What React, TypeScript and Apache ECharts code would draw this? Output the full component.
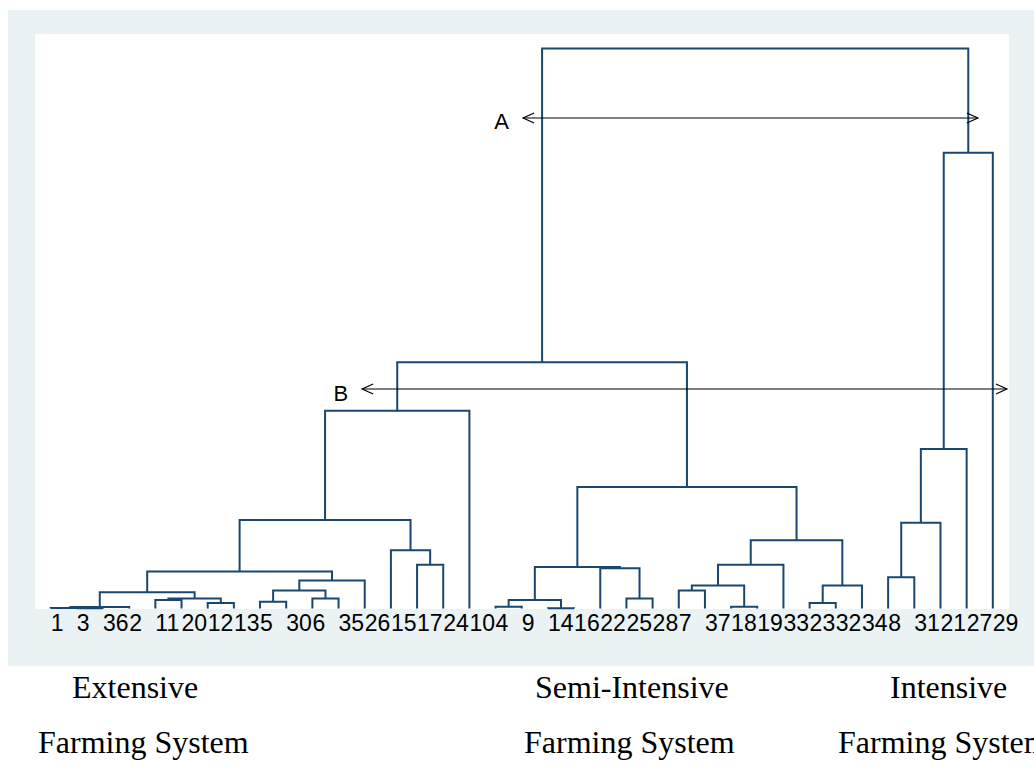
import React, { useEffect, useRef } from "react";
import * as echarts from "echarts";

// Leaf labels in dendrogram order (left to right)
const leafLabels = [
  "1", "3", "36", "2", "11", "20", "12", "13", "5", "30", "6", "35", "26",
  "15", "17", "24", "10", "4", "9", "14", "16", "22", "25", "28", "7", "37",
  "18", "19", "33", "23", "32", "34", "8", "31", "21", "27", "29",
];

// Linkage: node ids 0..36 are leaves (by position); merge k gets id 37 + k
const mergeLeft = [
  1, 0, 38, 4, 6, 40, 39, 8, 10, 44, 46, 43, 14, 13, 48, 51,
  17, 19, 53, 22, 21, 55, 24, 26, 59, 61, 29, 63, 62, 58, 52,
  32, 68, 69, 70, 67,
];
const mergeRight = [
  2, 37, 3, 5, 7, 41, 42, 9, 11, 45, 12, 47, 15, 49, 50, 16,
  18, 20, 54, 23, 56, 57, 25, 27, 60, 28, 30, 31, 64, 65, 66,
  33, 34, 35, 36, 71,
];
const mergeHeight = [
  0.04, 0.09, 0.27, 1.5, 1.0, 1.8, 2.9, 1.2, 1.8, 3.2, 5.0, 6.6, 7.8, 10.4, 15.8, 35.3,
  0.3, 0.05, 1.5, 1.8, 7.2, 7.4, 3.2, 0.3, 4.1, 7.8, 1.0, 4.1, 12.2, 21.7, 44.0,
  5.6, 15.3, 28.5, 81.4, 100,
];

// Cut-level annotations
const cutNames = ["A", "B"];
const cutHeights = [87.6, 39.2];
const cutFrom = [18.05, 11.9];
const cutTo = [35.43, 36.54];

const groupNames = ["Extensive", "Semi-Intensive", "Intensive"];
const groupSubtitle = "Farming System";

export default function App() {
  const ref = useRef<HTMLDivElement>(null);
  useEffect(() => {
    const el = ref.current;
    if (!el) return;
    const chart = echarts.init(el, null, { renderer: "svg" });
    const sans = '"Liberation Sans", Arial, sans-serif';
    const serif = '"Liberation Serif", "Times New Roman", serif';

    const nodeX: number[] = leafLabels.map((_, i) => i);
    const nodeH: number[] = leafLabels.map(() => 0);
    const segs: number[][] = [];
    mergeHeight.forEach((h, k) => {
      const a = mergeLeft[k];
      const b = mergeRight[k];
      segs.push([nodeX[a], nodeH[a], nodeX[b], nodeH[b], h]);
      nodeX.push((nodeX[a] + nodeX[b]) / 2);
      nodeH.push(h);
    });

    const cuts = cutNames.map((_, i) => [cutFrom[i], cutTo[i], cutHeights[i]]);

    const bottomText = (text: string, x: number, y: number) => ({
      type: "text",
      x,
      y,
      style: { text, font: `32px ${serif}`, fill: "#000", verticalAlign: "middle" },
    });

    const option: any = {
      animation: false,
      textStyle: { fontFamily: sans },
      grid: { left: 37.6, width: 968.3, top: 34, height: 574.5 },
      xAxis: [
        {
          type: "category",
          data: leafLabels,
          position: "bottom",
          boundaryGap: true,
          axisLine: { show: false },
          axisTick: { show: false },
          splitLine: { show: false },
          axisLabel: {
            interval: 0,
            align: "left",
            margin: 3,
            fontSize: 23,
            color: "#000",
            fontFamily: sans,
          },
          z: 10,
        },
        { type: "value", min: -0.5, max: 36.5, show: false },
      ],
      yAxis: { type: "value", min: 0, max: 102.6, show: false },
      graphic: [
        {
          type: "rect",
          z: -2,
          shape: { x: 8, y: 10, width: 1026, height: 656 },
          style: { fill: "#EAF2F3" },
        },
        {
          type: "rect",
          z: -1,
          shape: { x: 35, y: 34, width: 974, height: 575 },
          style: { fill: "#FFFFFF" },
        },
        bottomText(groupNames[0], 72, 687),
        bottomText(groupSubtitle, 38, 742),
        bottomText(groupNames[1], 535, 687),
        bottomText(groupSubtitle, 524, 742),
        bottomText(groupNames[2], 890, 687),
        bottomText(groupSubtitle, 838, 742),
      ],
      series: [
        {
          type: "custom",
          xAxisIndex: 1,
          yAxisIndex: 0,
          data: segs,
          encode: { x: [0, 2], y: [1, 3, 4] },
          renderItem: (_params: any, api: any) => {
            const p0 = api.coord([api.value(0), api.value(1)]);
            const p1 = api.coord([api.value(0), api.value(4)]);
            const p2 = api.coord([api.value(2), api.value(4)]);
            const p3 = api.coord([api.value(2), api.value(3)]);
            return {
              type: "polyline",
              shape: { points: [p0, p1, p2, p3] },
              style: { stroke: "#1a476f", lineWidth: 2, fill: "none", lineJoin: "miter" },
            };
          },
          z: 2,
        },
        {
          type: "custom",
          xAxisIndex: 1,
          yAxisIndex: 0,
          data: cuts,
          encode: { x: [0, 1], y: 2 },
          renderItem: (params: any, api: any) => {
            const s = api.coord([api.value(0), api.value(2)]);
            const e = api.coord([api.value(1), api.value(2)]);
            const y = s[1];
            const stroke = { stroke: "#000", lineWidth: 1.2, fill: "none" };
            return {
              type: "group",
              children: [
                { type: "line", shape: { x1: s[0], y1: y, x2: e[0], y2: y }, style: stroke },
                { type: "polyline", shape: { points: [[s[0] + 11, y - 5], [s[0], y], [s[0] + 11, y + 5]] }, style: stroke },
                { type: "polyline", shape: { points: [[e[0] - 11, y - 5], [e[0], y], [e[0] - 11, y + 5]] }, style: stroke },
                {
                  type: "text",
                  x: s[0] - 14,
                  y: y + 4,
                  style: {
                    text: cutNames[params.dataIndex],
                    align: "right",
                    verticalAlign: "middle",
                    font: `22px ${sans}`,
                    fill: "#000",
                  },
                },
              ],
            };
          },
          z: 5,
        },
      ],
    };
    chart.setOption(option);
    return () => chart.dispose();
  }, []);
  return (
    <div
      ref={ref}
      style={{ position: "absolute", left: 0, top: 0, width: 1034, height: 784 }}
    />
  );
}
